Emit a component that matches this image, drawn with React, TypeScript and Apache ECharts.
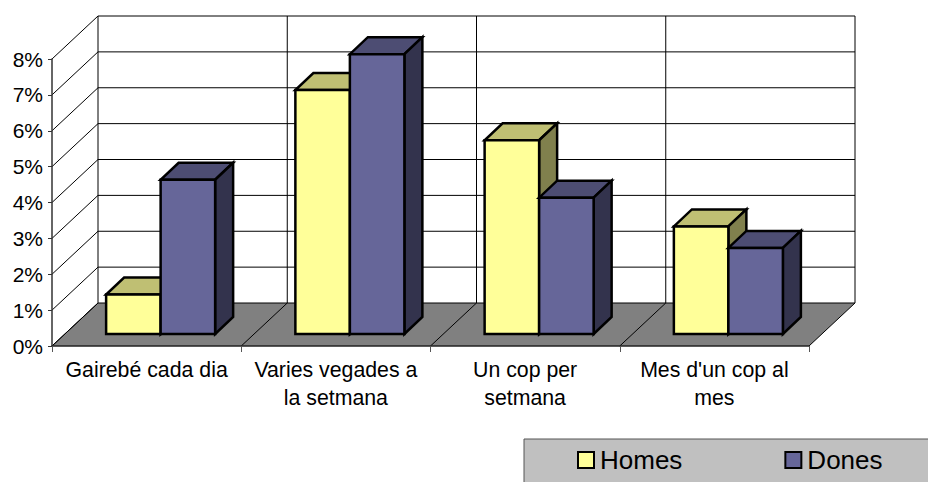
import React, { useEffect, useRef } from "react";
import * as echarts from "echarts";

const categories = ["Gairebé cada dia", "Varies vegades a\nla setmana", "Un cop per\nsetmana", "Mes d'un cop al\nmes"];
const seriesNames = ["Homes", "Dones"];
const homes = [1.1, 6.8, 5.4, 3.0];
const dones = [4.3, 7.8, 3.8, 2.4];
const yTicks = [0, 1, 2, 3, 4, 5, 6, 7, 8];
const boundaries = [0, 1, 2, 3, 4];

const FONT = "'Liberation Sans', Arial, sans-serif";
const DX = 46;
const DY = -43;
const BAR_OFF_X = 14;
const BAR_OFF_Y = -12;
const BAR_DX = 18;
const BAR_DY = -17;
const BAR_RATIO = 0.288;

const palette = [
  { front: "#FFFF99", top: "#BFBF73", side: "#80804D" },
  { front: "#666699", top: "#4D4D73", side: "#33334D" },
];

function polygon(points: number[][], fill: string, stroke: string, lineWidth: number) {
  return {
    type: "polygon",
    shape: { points },
    style: { fill, stroke, lineWidth, lineJoin: "miter" },
    silent: true,
  };
}
function line(a: number[], b: number[], stroke = "#000", lineWidth = 1) {
  return {
    type: "line",
    shape: { x1: a[0], y1: a[1], x2: b[0], y2: b[1] },
    style: { stroke, lineWidth },
    silent: true,
  };
}

function boundaryX(api: any, i: number) {
  const band = api.size([1, 0])[0];
  return api.coord([0, 0])[0] - band / 2 + band * i;
}

function renderBackdrop(_: any, api: any) {
  const y0 = api.coord([0, 0])[1];
  const y8 = api.coord([0, 8])[1];
  const xl = boundaryX(api, 0);
  const xr = boundaryX(api, 4);
  return {
    type: "group",
    children: [
      polygon([[xl + DX, y0 + DY], [xr + DX, y0 + DY], [xr + DX, y8 + DY], [xl + DX, y8 + DY]], "#fff", "none", 0),
      polygon([[xl, y0], [xr, y0], [xr + DX, y0 + DY], [xl + DX, y0 + DY]], "#808080", "none", 0),
    ],
  };
}

function renderHLine(_: any, api: any) {
  const v = api.value(0);
  const y = api.coord([0, v])[1];
  const xl = boundaryX(api, 0);
  const xr = boundaryX(api, 4);
  return {
    type: "group",
    children: [
      line([xl, y], [xl + DX, y + DY]),
      line([xl + DX, y + DY], [xr + DX, y + DY]),
    ],
  };
}

function renderVLine(_: any, api: any) {
  const i = api.value(0);
  const y0 = api.coord([0, 0])[1];
  const y8 = api.coord([0, 8])[1];
  const x = boundaryX(api, i);
  return {
    type: "group",
    children: [line([x + DX, y0 + DY], [x + DX, y8 + DY]), line([x, y0], [x + DX, y0 + DY])],
  };
}

function renderBar(k: number) {
  return (_: any, api: any) => {
    const i = api.value(0);
    const v = api.value(1);
    const band = api.size([1, 0])[0];
    const w = band * BAR_RATIO;
    const base = api.coord([i, 0]);
    const top = api.coord([i, v]);
    const x0 = base[0] + (k - 1) * w + BAR_OFF_X;
    const x1 = x0 + w;
    const yb = base[1] + BAR_OFF_Y;
    const yt = top[1] + BAR_OFF_Y;
    const c = palette[k];
    return {
      type: "group",
      children: [
        polygon([[x0, yt], [x1, yt], [x1 + BAR_DX, yt + BAR_DY], [x0 + BAR_DX, yt + BAR_DY]], c.top, "#000", 2.5),
        polygon([[x1, yt], [x1 + BAR_DX, yt + BAR_DY], [x1 + BAR_DX, yb + BAR_DY], [x1, yb]], c.side, "#000", 2.5),
        polygon([[x0, yt], [x1, yt], [x1, yb], [x0, yb]], c.front, "#000", 2.5),
      ],
    };
  };
}

export default function App() {
  const ref = useRef<HTMLDivElement>(null);
  useEffect(() => {
    document.body.style.margin = "0";
    const chart = echarts.init(ref.current!, null, { renderer: "svg" });
    chart.setOption({
      animation: false,
      textStyle: { fontFamily: FONT },
      grid: { left: 52, right: 119, top: 59, bottom: 136, containLabel: false },
      legend: {
        data: seriesNames,
        left: 577,
        top: 447,
        padding: 0,
        icon: "rect",
        itemWidth: 16,
        itemHeight: 16,
        itemGap: 102,
        textStyle: { fontFamily: FONT, fontSize: 26, color: "#000", padding: [2, 0, 0, 1] },
        selectedMode: false,
      },
      graphic: [
        {
          type: "rect",
          z: 1,
          silent: true,
          shape: { x: 524, y: 439, width: 420, height: 60 },
          style: { fill: "#C0C0C0", stroke: "#555", lineWidth: 1 },
        },
      ],
      xAxis: {
        type: "category",
        data: categories,
        axisLine: { show: true, lineStyle: { color: "#222", width: 1.5 } },
        axisTick: { show: true, length: 6, lineStyle: { color: "#555", width: 1 } },
        axisLabel: { interval: 0, color: "#000", fontSize: 21.3, fontFamily: FONT, lineHeight: 28, margin: 10 },
        z: 10,
      },
      yAxis: {
        type: "value",
        min: 0,
        max: 8,
        interval: 1,
        splitLine: { show: false },
        axisLine: { show: true, lineStyle: { color: "#333", width: 1.5 } },
        axisTick: { show: true, length: 4, lineStyle: { color: "#333", width: 1 } },
        axisLabel: { color: "#000", fontSize: 21, fontFamily: FONT, margin: 9, formatter: "{value}%" },
        z: 10,
      },
      series: [
        { type: "custom", name: "backdrop", data: [[0]], renderItem: renderBackdrop, silent: true, z: 1, clip: false },
        { type: "custom", name: "hlines", data: yTicks.map((v) => [v]), renderItem: renderHLine, silent: true, z: 2, clip: false },
        { type: "custom", name: "vlines", data: boundaries.map((v) => [v]), renderItem: renderVLine, silent: true, z: 2, clip: false },
        {
          type: "custom",
          name: seriesNames[0],
          data: homes.map((v, i) => [i, v]),
          renderItem: renderBar(0),
          itemStyle: { color: palette[0].front, borderColor: "#000", borderWidth: 2.5 },
          z: 3,
          clip: false,
        },
        {
          type: "custom",
          name: seriesNames[1],
          data: dones.map((v, i) => [i, v]),
          renderItem: renderBar(1),
          itemStyle: { color: palette[1].front, borderColor: "#000", borderWidth: 2.5 },
          z: 4,
          clip: false,
        },
      ],
    });
    return () => chart.dispose();
  }, []);
  return <div ref={ref} style={{ width: 928, height: 482 }} />;
}
